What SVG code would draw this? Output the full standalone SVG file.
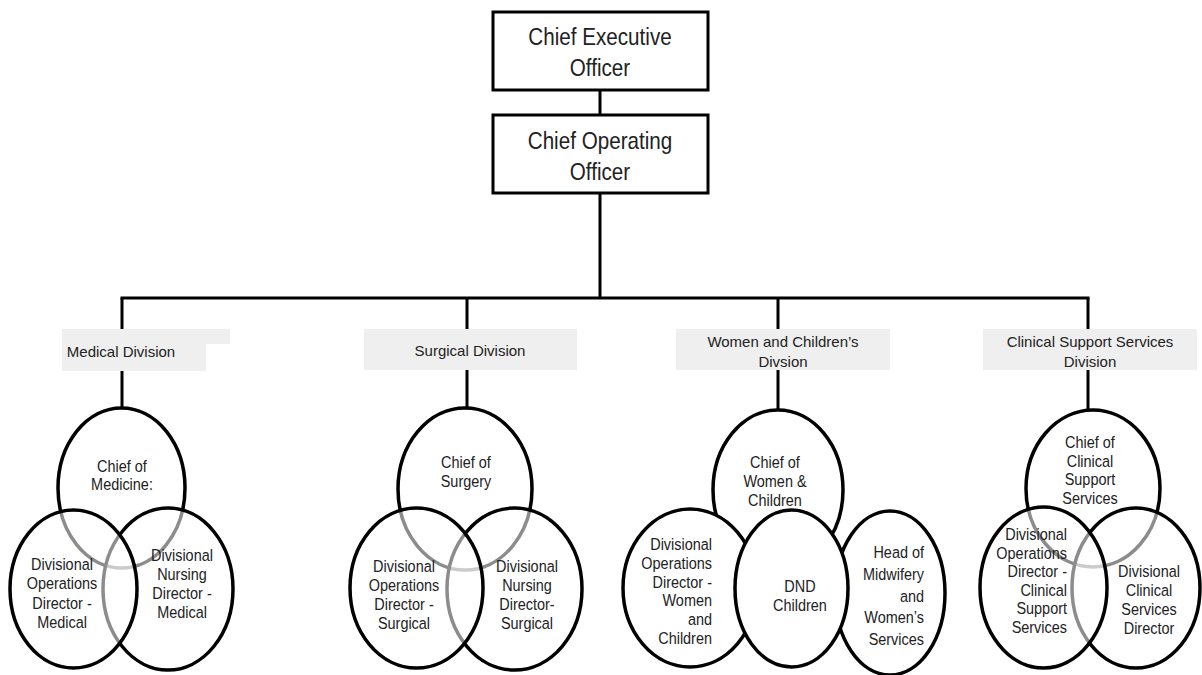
<svg xmlns="http://www.w3.org/2000/svg" width="1202" height="675" viewBox="0 0 1202 675">
<style>
.box{fill:#fff;stroke:#000;stroke-width:3}
.lbl{fill:#efefef}
.ov{fill:#fff;fill-opacity:0.55;stroke:#000;stroke-width:3.5}
.op{fill:#fff;stroke:#000;stroke-width:3.5}
.ln{stroke:#000;stroke-width:3;fill:none}
text{font-family:"Liberation Sans",Arial,sans-serif;fill:#222}
.t1{font-size:24px;text-anchor:middle}
.tl{font-size:15px;text-anchor:middle}
.te{font-size:17px;text-anchor:middle}
.tr{font-size:17px;text-anchor:end}
</style>
<rect width="1202" height="675" fill="#fff"/>
<g id="connectors">
<line class="ln" x1="600" y1="90" x2="600" y2="115"/>
<line class="ln" x1="600" y1="193" x2="600" y2="298" stroke-width="3.5"/>
<line class="ln" x1="120.5" y1="298" x2="1089.5" y2="298" stroke-width="3.5"/>
<line class="ln" x1="122" y1="298" x2="122" y2="329"/>
<line class="ln" x1="122" y1="371" x2="122" y2="408"/>
<line class="ln" x1="467" y1="298" x2="467" y2="329"/>
<line class="ln" x1="467" y1="370" x2="467" y2="408"/>
<line class="ln" x1="778" y1="298" x2="778" y2="329" stroke-width="2"/>
<line class="ln" x1="778" y1="370" x2="778" y2="410" stroke-width="2"/>
<line class="ln" x1="1088" y1="298" x2="1088" y2="329"/>
<line class="ln" x1="1088" y1="370" x2="1088" y2="410"/>
</g>
<g id="ceo">
<rect class="box" x="493" y="12" width="215" height="78"/>
<text class="t1" transform="translate(600,45) scale(0.86,1)"><tspan x="0" y="0">Chief Executive</tspan><tspan x="0" y="31">Officer</tspan></text>
</g>
<g id="coo">
<rect class="box" x="493" y="115" width="215" height="78"/>
<text class="t1" transform="translate(600,149) scale(0.86,1)"><tspan x="0" y="0">Chief Operating</tspan><tspan x="0" y="31">Officer</tspan></text>
</g>
<g id="medical-division">
<path class="lbl" d="M62,329H230V344H206V371H62Z"/>
<text class="tl" x="121" y="357">Medical Division</text>
</g>
<g id="surgical-division">
<rect class="lbl" x="364" y="329" width="213" height="41"/>
<text class="tl" x="470" y="356">Surgical Division</text>
</g>
<g id="wc-division">
<rect class="lbl" x="676" y="329" width="214" height="41"/>
<text class="tl" x="783" y="347">Women and Children’s</text>
<text class="tl" x="783" y="367">Divsion</text>
</g>
<g id="css-division">
<rect class="lbl" x="983" y="329" width="214" height="41"/>
<text class="tl" x="1090" y="347">Clinical Support Services</text>
<text class="tl" x="1090" y="367">Division</text>
</g>
<g id="chief-medicine">
<ellipse class="ov" cx="121.5" cy="488" rx="63.5" ry="80"/>
<text class="te" transform="translate(122,472) scale(0.85,1)"><tspan x="0" y="0">Chief of</tspan><tspan x="0" y="18">Medicine:</tspan></text>
</g>
<g id="dnd-medical">
<ellipse class="ov" cx="168" cy="589" rx="65" ry="81"/>
<text class="te" transform="translate(182,561) scale(0.85,1)"><tspan x="0" y="0">Divisional</tspan><tspan x="0" y="19">Nursing</tspan><tspan x="0" y="38">Director -</tspan><tspan x="0" y="57">Medical</tspan></text>
</g>
<g id="dod-medical">
<ellipse class="ov" cx="73.5" cy="589" rx="63.5" ry="79"/>
<text class="te" transform="translate(62,570) scale(0.85,1)"><tspan x="0" y="0">Divisional</tspan><tspan x="0" y="19.5">Operations</tspan><tspan x="0" y="39">Director -</tspan><tspan x="0" y="58.5">Medical</tspan></text>
</g>
<g id="chief-surgery">
<ellipse class="ov" cx="465" cy="489" rx="67" ry="81"/>
<text class="te" transform="translate(466,468) scale(0.85,1)"><tspan x="0" y="0">Chief of</tspan><tspan x="0" y="19">Surgery</tspan></text>
</g>
<g id="dnd-surgical">
<ellipse class="ov" cx="514.5" cy="589" rx="67.5" ry="81"/>
<text class="te" transform="translate(527,572) scale(0.85,1)"><tspan x="0" y="0">Divisional</tspan><tspan x="0" y="19">Nursing</tspan><tspan x="0" y="38">Director-</tspan><tspan x="0" y="57">Surgical</tspan></text>
</g>
<g id="dod-surgical">
<ellipse class="ov" cx="416.5" cy="588" rx="66.5" ry="80"/>
<text class="te" transform="translate(404,572) scale(0.85,1)"><tspan x="0" y="0">Divisional</tspan><tspan x="0" y="19">Operations</tspan><tspan x="0" y="38">Director -</tspan><tspan x="0" y="57">Surgical</tspan></text>
</g>
<g id="chief-wc">
<ellipse class="op" cx="778" cy="490" rx="65" ry="80"/>
<text class="te" transform="translate(775,468) scale(0.85,1)"><tspan x="0" y="0">Chief of</tspan><tspan x="0" y="19">Women &amp;</tspan><tspan x="0" y="38">Children</tspan></text>
</g>
<g id="dod-wc">
<ellipse class="op" cx="690" cy="588" rx="67" ry="79"/>
<text class="tr" transform="translate(712,550) scale(0.85,1)"><tspan x="0" y="0">Divisional</tspan><tspan x="0" y="18.8">Operations</tspan><tspan x="0" y="37.6">Director -</tspan><tspan x="0" y="56.4">Women</tspan><tspan x="0" y="75.2">and</tspan><tspan x="0" y="94">Children</tspan></text>
</g>
<g id="hom-wc">
<ellipse class="op" cx="890" cy="593" rx="55" ry="82"/>
<text class="tr" transform="translate(924,558) scale(0.85,1)"><tspan x="0" y="0">Head of</tspan><tspan x="0" y="21.8">Midwifery</tspan><tspan x="0" y="43.6">and</tspan><tspan x="0" y="65.4">Women’s</tspan><tspan x="0" y="87.2">Services</tspan></text>
</g>
<g id="dnd-wc">
<ellipse class="op" cx="791.5" cy="588.5" rx="56.5" ry="78.5"/>
<text class="te" transform="translate(800,592) scale(0.85,1)"><tspan x="0" y="0">DND</tspan><tspan x="0" y="19">Children</tspan></text>
</g>
<g id="chief-css">
<ellipse class="ov" cx="1093" cy="488.5" rx="67" ry="78.5"/>
<text class="te" transform="translate(1090,448) scale(0.85,1)"><tspan x="0" y="0">Chief of</tspan><tspan x="0" y="18.7">Clinical</tspan><tspan x="0" y="37.4">Support</tspan><tspan x="0" y="56">Services</tspan></text>
</g>
<g id="dcsd-css">
<ellipse class="ov" cx="1136" cy="588" rx="64" ry="80"/>
<text class="te" transform="translate(1149,577) scale(0.85,1)"><tspan x="0" y="0">Divisional</tspan><tspan x="0" y="19">Clinical</tspan><tspan x="0" y="38">Services</tspan><tspan x="0" y="57">Director</tspan></text>
</g>
<g id="dod-css">
<ellipse class="ov" cx="1043.5" cy="587.5" rx="63.5" ry="80.5"/>
<text class="tr" transform="translate(1067,540) scale(0.85,1)"><tspan x="0" y="0">Divisional</tspan><tspan x="0" y="18.6">Operations</tspan><tspan x="0" y="37.2">Director -</tspan><tspan x="0" y="55.8">Clinical</tspan><tspan x="0" y="74.4">Support</tspan><tspan x="0" y="93">Services</tspan></text>
</g>
</svg>
